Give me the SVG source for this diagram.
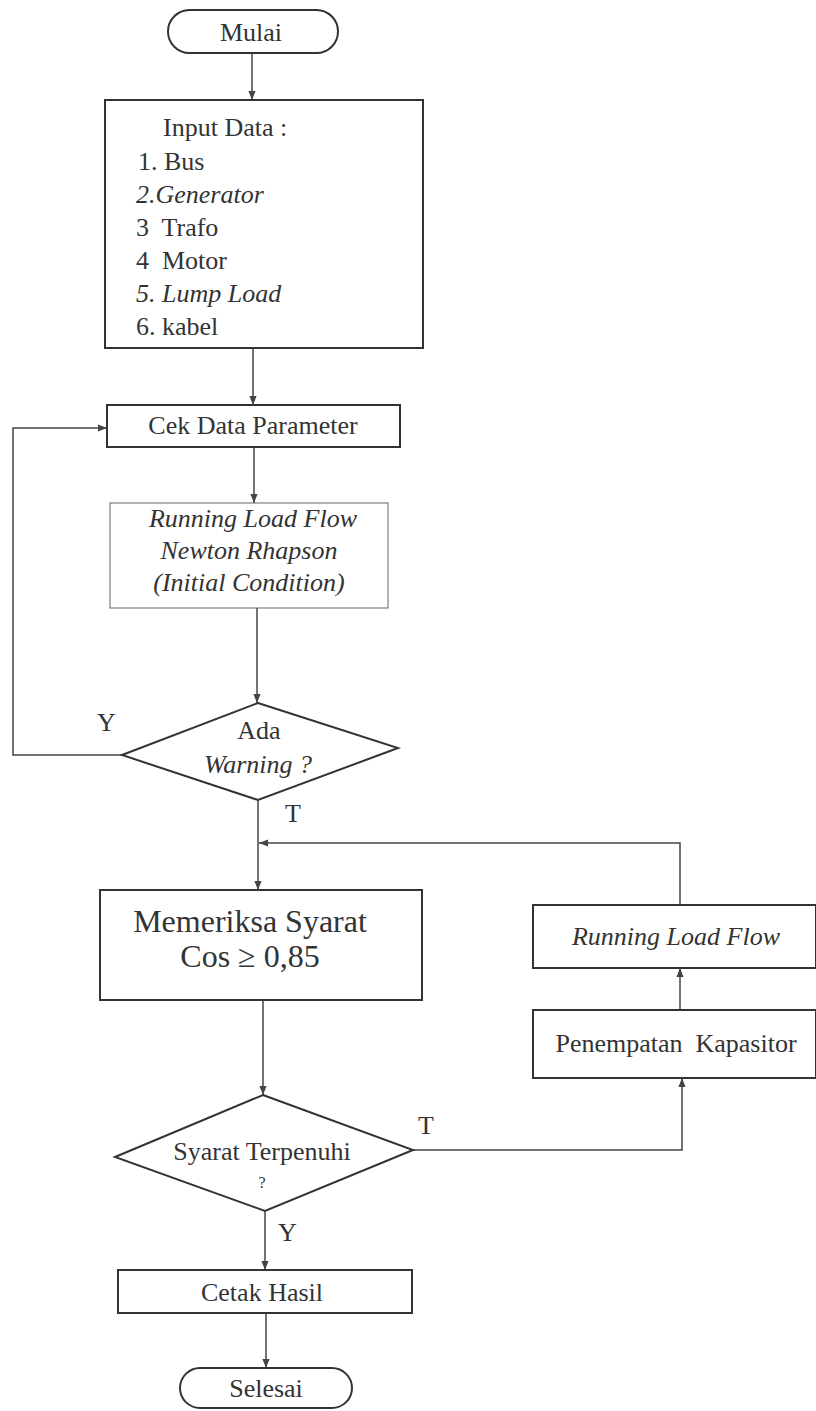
<svg xmlns="http://www.w3.org/2000/svg" width="816" height="1411" viewBox="0 0 816 1411">
<style>
.box{fill:#fff;stroke:#333;stroke-width:2}
.thin{fill:#fff;stroke:#666;stroke-width:1}
.ln{fill:none;stroke:#444;stroke-width:1.5}
.t{font-family:"Liberation Serif",serif;font-size:26px;fill:#333}
.i{font-style:italic}
.c{text-anchor:middle}
.pre{white-space:pre}
</style>
<defs>
<marker id="ah" viewBox="0 0 10 10" refX="10" refY="5" markerWidth="9" markerHeight="9" markerUnits="userSpaceOnUse" orient="auto"><path d="M0,1 L10,5 L0,9 z" fill="#444"/></marker>
</defs>
<rect width="816" height="1411" fill="#fff"/>
<g id="connectors">
<line class="ln" x1="252" y1="53" x2="252" y2="100" marker-end="url(#ah)"/>
<line class="ln" x1="253" y1="348" x2="253" y2="405" marker-end="url(#ah)"/>
<line class="ln" x1="254" y1="447" x2="254" y2="503" marker-end="url(#ah)"/>
<line class="ln" x1="257" y1="608" x2="257" y2="703" marker-end="url(#ah)"/>
<path class="ln" d="M122,755 H13 V428 H107" marker-end="url(#ah)"/>
<line class="ln" x1="258" y1="800" x2="258" y2="890" marker-end="url(#ah)"/>
<path class="ln" d="M680,905 V843 H259" marker-end="url(#ah)"/>
<line class="ln" x1="263" y1="1000" x2="263" y2="1095" marker-end="url(#ah)"/>
<path class="ln" d="M413,1150 H682 V1078" marker-end="url(#ah)"/>
<line class="ln" x1="680" y1="1010" x2="680" y2="968" marker-end="url(#ah)"/>
<line class="ln" x1="265" y1="1211" x2="265" y2="1270" marker-end="url(#ah)"/>
<line class="ln" x1="266" y1="1313" x2="266" y2="1368" marker-end="url(#ah)"/>
<text class="t" x="97" y="731">Y</text>
<text class="t" x="285" y="822">T</text>
<text class="t" x="418" y="1134">T</text>
<text class="t" x="278" y="1241">Y</text>
</g>
<g id="mulai">
<rect class="box" x="168" y="10" width="170" height="43" rx="21.5"/>
<text class="t c" x="251" y="41">Mulai</text>
</g>
<g id="input">
<rect class="box" x="105" y="100" width="318" height="248"/>
<text class="t" x="163" y="136">Input Data :</text>
<text class="t" x="138" y="170">1. Bus</text>
<text class="t i" x="136" y="203">2.Generator</text>
<text class="t pre" x="136" y="236">3  Trafo</text>
<text class="t pre" x="136" y="269">4  Motor</text>
<text class="t i" x="136" y="302">5. Lump Load</text>
<text class="t" x="136" y="335">6. kabel</text>
</g>
<g id="cek">
<rect class="box" x="107" y="405" width="293" height="42"/>
<text class="t c" x="253" y="434">Cek Data Parameter</text>
</g>
<g id="rlf1">
<rect class="thin" x="110" y="503" width="278" height="105"/>
<text class="t i c" x="253" y="527">Running Load Flow</text>
<text class="t i c" x="249" y="559">Newton Rhapson</text>
<text class="t i c" x="249" y="591">(Initial Condition)</text>
</g>
<g id="warning">
<polygon class="box" points="258,703 398,748 258,800 122,755"/>
<text class="t c" x="259" y="739">Ada</text>
<text class="t i c" x="258" y="773">Warning ?</text>
</g>
<g id="memeriksa">
<rect class="box" x="100" y="890" width="322" height="110"/>
<text class="t c" x="250" y="932" style="font-size:32px">Memeriksa Syarat</text>
<text class="t c" x="250" y="967" style="font-size:32px">Cos ≥ 0,85</text>
</g>
<g id="rlf2">
<rect class="box" x="533" y="905" width="283" height="63"/>
<text class="t i c" x="676" y="945">Running Load Flow</text>
</g>
<g id="kapasitor">
<rect class="box" x="533" y="1010" width="283" height="68"/>
<text class="t c pre" x="676" y="1052">Penempatan  Kapasitor</text>
</g>
<g id="syarat">
<polygon class="box" points="263,1095 413,1150 265,1211 115,1157"/>
<text class="t c" x="262" y="1160">Syarat Terpenuhi</text>
<text class="t c" x="262" y="1188" style="font-size:16px">?</text>
</g>
<g id="cetak">
<rect class="box" x="118" y="1270" width="294" height="43"/>
<text class="t c" x="262" y="1301">Cetak Hasil</text>
</g>
<g id="selesai">
<rect class="box" x="180" y="1368" width="172" height="40" rx="20"/>
<text class="t c" x="266" y="1397">Selesai</text>
</g>
</svg>
